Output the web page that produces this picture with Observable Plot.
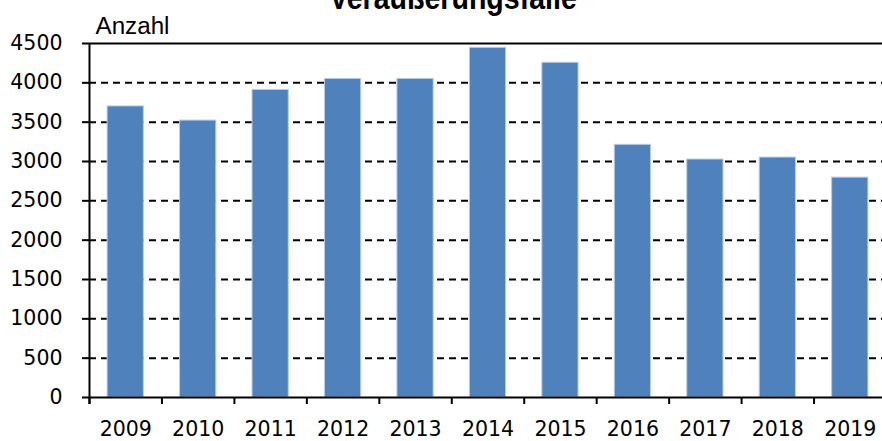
<!DOCTYPE html>
<html>
<head>
<meta charset="utf-8">
<script src="https://cdn.jsdelivr.net/npm/d3@7"></script>
<script src="https://cdn.jsdelivr.net/npm/@observablehq/plot@0.6"></script>
<style>
  body { margin: 0; background: #fff; overflow: hidden; }
  #wrap { position: relative; width: 882px; height: 441px; overflow: hidden; background: #fff; }
  #title { position: absolute; left: 0; width: 906px; text-align: center; top: -20px;
           font: bold 34px "Liberation Sans", Arial, sans-serif;
           line-height: 34px; color: #000; white-space: nowrap; z-index: 2;
           transform: scaleX(0.84); transform-origin: 453px 0; }
  #chart { position: absolute; left: 0; top: 0; }
</style>
</head>
<body>
<div id="wrap">
  <div id="title">Veräußerungsfälle</div>
  <div id="chart"></div>
</div>
<script>
const years = [2009, 2010, 2011, 2012, 2013, 2014, 2015, 2016, 2017, 2018, 2019];
const counts = [3700, 3520, 3910, 4050, 4050, 4445, 4255, 3212, 3025, 3050, 2795];
const yTicks = [0, 500, 1000, 1500, 2000, 2500, 3000, 3500, 4000, 4500];
const yLabel = "Anzahl";

const data = years.map((year, i) => ({year, count: counts[i]}));
const first = years[0] - 0.5;
const last = years[years.length - 1] + 0.5;
const boundaries = [first, ...years.map(y => y + 0.5)];
const yMax = yTicks[yTicks.length - 1];

const chart = Plot.plot({
  width: 882,
  height: 441,
  marginLeft: 89,
  marginRight: -4,
  marginTop: 43,
  marginBottom: 44,
  style: {fontFamily: "'DejaVu Sans', Verdana, sans-serif", fontSize: "20.5px", color: "#000", background: "#fff", overflow: "hidden"},
  x: {type: "linear", domain: [first, last]},
  y: {domain: [0, yMax]},
  marks: [
    Plot.ruleY(yTicks.filter(v => v > 0 && v < yMax), {stroke: "#000", strokeWidth: 2, strokeDasharray: "7,5"}),
    Plot.ruleY([yMax], {stroke: "#000", strokeWidth: 2}),
    Plot.rectY(data, {x1: d => d.year - 0.25, x2: d => d.year + 0.25, y: "count", fill: "#4F81BD", stroke: "#B8CCE4", strokeWidth: 1}),
    Plot.axisY({ticks: yTicks, tickSize: 7, tickPadding: 20, tickFormat: d => String(d), label: null, strokeWidth: 2}),
    Plot.axisX({ticks: boundaries, tickSize: 7, tickFormat: () => "", label: null, strokeWidth: 2}),
    Plot.axisX({ticks: years, tickSize: 0, tickPadding: 24, tickFormat: d => String(d), label: null}),
    Plot.ruleX([first], {stroke: "#000", strokeWidth: 2, insetBottom: -7}),
    Plot.ruleY([0], {stroke: "#000", strokeWidth: 2}),
    Plot.text([yLabel], {frameAnchor: "top-left", text: d => d, dx: 6, dy: -10, textAnchor: "start", lineAnchor: "bottom",
      fontFamily: "'Liberation Sans', Arial, sans-serif", fontSize: 23, className: "ylabel"})
  ]
});
document.getElementById("chart").appendChild(chart);
chart.querySelectorAll(".ylabel text").forEach(t => {
  t.setAttribute("textLength", "74");
  t.setAttribute("lengthAdjust", "spacingAndGlyphs");
});
</script>
</body>
</html>
